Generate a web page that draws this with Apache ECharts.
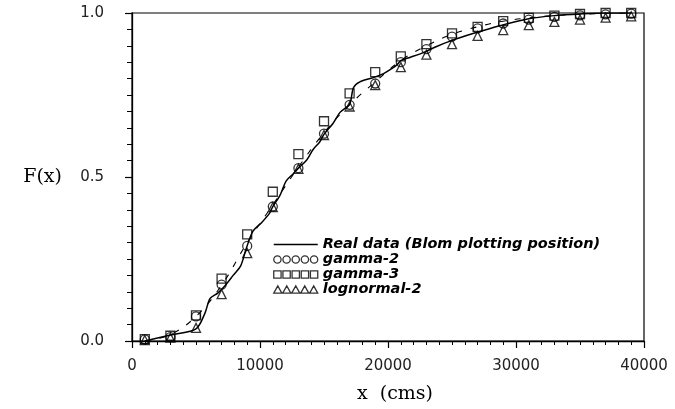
<!DOCTYPE html>
<html>
<head>
<meta charset="utf-8">
<script src="https://cdn.jsdelivr.net/npm/echarts@6/dist/echarts.min.js"></script>
<style>html,body{margin:0;padding:0;background:#fff;}#c{width:675px;height:409px;}</style>
</head>
<body>
<div id="c"></div>
<script>
// Marker positions (x in cms)
const xs = [1000,3000,5000,7000,9000,11000,13000,15000,17000,19000,21000,23000,25000,27000,29000,31000,33000,35000,37000,39000];
const gamma2 = [0.005,0.012,0.075,0.172,0.29,0.41,0.527,0.632,0.72,0.785,0.85,0.89,0.928,0.953,0.968,0.98,0.988,0.993,0.996,0.998];
const gamma3 = [0.006,0.016,0.078,0.19,0.325,0.455,0.57,0.67,0.755,0.82,0.868,0.905,0.938,0.958,0.975,0.985,0.992,0.997,1.0,1.0];
const lognormal2 = [0.003,0.01,0.04,0.143,0.268,0.408,0.525,0.628,0.715,0.78,0.835,0.873,0.905,0.93,0.948,0.963,0.973,0.98,0.986,0.99];
// Dashed fitted curve
const fitF = [0.0,0.02,0.075,0.17,0.3,0.415,0.53,0.635,0.72,0.79,0.855,0.9,0.935,0.958,0.975,0.985,0.992,0.996,0.999,1.0];
// Real data (Blom plotting position)
const realX = [1000,3200,5000,5700,6100,6700,7300,7900,8500,8900,9450,10100,10750,11000,11550,12050,12600,13000,13650,14150,14650,15000,15700,16250,17000,17300,17800,18850,19650,20200,20700,21000,21750,22800,23800,24900,26700,28800,30900,33000,35000,37000,39000];
const realF = [0.0,0.02,0.037,0.085,0.13,0.146,0.17,0.2,0.23,0.279,0.335,0.36,0.39,0.41,0.443,0.488,0.51,0.527,0.552,0.584,0.606,0.63,0.663,0.697,0.722,0.772,0.79,0.803,0.815,0.828,0.842,0.855,0.865,0.88,0.898,0.915,0.938,0.962,0.982,0.992,0.997,1.0,1.0];
const xTicks = ['0','10000','20000','30000','40000'];
const yTicks = ['0.0','0.5','1.0'];
const names = ['Real data (Blom plotting position)','gamma-2','gamma-3','lognormal-2'];

function pairs(a, b) { return a.map((v, i) => [v, b[i]]); }
function icon(kind) {
  let p = '';
  for (let i = 0; i < 5; i++) {
    const cx = 5 + 10 * i;
    if (kind === 'c') p += `M${cx-4} 5 A4 4 0 1 0 ${cx+4} 5 A4 4 0 1 0 ${cx-4} 5 Z `;
    if (kind === 's') p += `M${cx-4} 1 L${cx+4} 1 L${cx+4} 9 L${cx-4} 9 Z `;
    if (kind === 't') p += `M${cx} 1 L${cx+4.5} 9 L${cx-4.5} 9 Z `;
  }
  return 'path://' + p;
}
const hollow = {color: 'rgba(0,0,0,0)', borderColor: '#000', borderWidth: 1.3};
const chart = echarts.init(document.getElementById('c'), null, {renderer: 'canvas'});
chart.setOption({
  animation: false,
  backgroundColor: '#fff',
  grid: {left: 132, right: 31, top: 13, bottom: 68, show: true, borderColor: '#000', borderWidth: 1.2, backgroundColor: 'transparent'},
  legend: {
    orient: 'vertical', left: 268, top: 232,
    itemWidth: 44, itemHeight: 9, itemGap: 0,
    textStyle: {fontFamily: 'DejaVu Sans', fontStyle: 'italic', fontWeight: 'bold', fontSize: 14.5, color: '#000', lineHeight: 14.5, height: 14.5},
    data: [
      {name: names[0], itemStyle: {color: 'rgba(0,0,0,0)', borderWidth: 0, opacity: 0}, lineStyle: {color: '#000', width: 1.5}},
      {name: names[1], icon: icon('c'), itemStyle: hollow},
      {name: names[2], icon: icon('s'), itemStyle: hollow},
      {name: names[3], icon: icon('t'), itemStyle: hollow}
    ]
  },
  xAxis: {
    type: 'value', min: 0, max: 40000, interval: 10000,
    name: 'x  (cms)', nameLocation: 'middle', nameGap: 44,
    nameTextStyle: {fontFamily: 'DejaVu Serif', fontSize: 19, color: '#000', padding: [0, 0, 0, 14]},
    axisLine: {show: true, onZero: false, lineStyle: {color: '#000', width: 1.3}},
    axisTick: {show: true, inside: false, length: 7, lineStyle: {color: '#000', width: 1.2}},
    minorTick: {show: true, splitNumber: 10, length: 4, lineStyle: {color: '#000', width: 1}},
    splitLine: {show: false},
    axisLabel: {margin: 18, fontFamily: 'DejaVu Sans', fontSize: 15, color: '#222',
      formatter: v => xTicks[Math.round(v / 10000)]}
  },
  yAxis: {
    type: 'value', min: 0, max: 1, interval: 0.5,
    name: 'F(x)', nameLocation: 'middle', nameGap: 70, nameRotate: 0,
    nameTextStyle: {fontFamily: 'DejaVu Serif', fontSize: 19, color: '#000', padding: [8, 0, 0, 0]},
    axisLine: {show: true, onZero: false, lineStyle: {color: '#000', width: 1.3}},
    axisTick: {show: true, inside: false, length: 7, lineStyle: {color: '#000', width: 1.2}},
    minorTick: {show: true, splitNumber: 10, length: 5, lineStyle: {color: '#000', width: 1}},
    splitLine: {show: false},
    axisLabel: {margin: 28, fontFamily: 'DejaVu Sans', fontSize: 15, color: '#222',
      formatter: v => yTicks[Math.round(v * 2)]}
  },
  series: [
    {name: 'fit', type: 'line', data: pairs(xs, fitF), smooth: 0.4, symbol: 'none',
     lineStyle: {color: '#000', width: 1.1, type: [6, 9]}, z: 2},
    {name: names[0], type: 'line', data: pairs(realX, realF), smooth: 0.3, symbol: 'none',
     lineStyle: {color: '#000', width: 1.5}, itemStyle: {color: '#000'}, z: 3},
    {name: names[1], type: 'scatter', data: pairs(xs, gamma2), symbol: 'circle', symbolSize: 9, itemStyle: hollow, z: 4},
    {name: names[2], type: 'scatter', data: pairs(xs, gamma3), symbol: 'rect', symbolSize: 9, itemStyle: hollow, z: 4},
    {name: names[3], type: 'scatter', data: pairs(xs, lognormal2), symbol: 'triangle', symbolSize: 9, itemStyle: hollow, z: 4}
  ]
});
</script>
</body>
</html>
